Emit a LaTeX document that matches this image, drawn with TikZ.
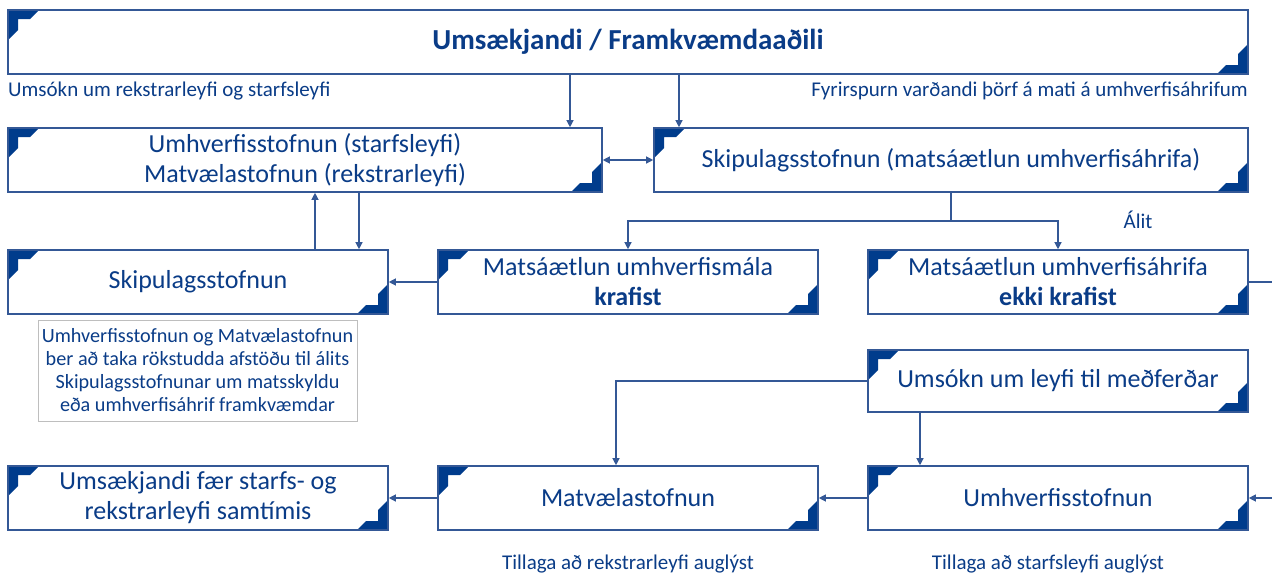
\documentclass[tikz,border=0pt]{standalone}
\usepackage{fontspec}
\setmainfont{Carlito}
\usetikzlibrary{arrows.meta}
\definecolor{edge}{RGB}{52,88,150}
\definecolor{ink}{RGB}{10,60,135}
\definecolor{cornerblue}{RGB}{0,60,140}
\definecolor{notegray}{RGB}{190,190,190}
\tikzset{
  x=1pt, y=-1pt,
  box/.style={draw=edge, line width=1.6pt, fill=white, text=ink, align=center,
    inner sep=0pt, font=\fontsize{26}{30}\selectfont,
    path picture={
      \fill[cornerblue] (path picture bounding box.north west) -- ++(31pt,0pt) -- ++(-9pt,-9pt)
        -- ++(-12pt,0pt) -- ++(0pt,-11pt) -- ++(-10pt,-10pt) -- cycle;
      \fill[cornerblue] (path picture bounding box.south east) -- ++(-31pt,0pt) -- ++(9pt,9pt)
        -- ++(12pt,0pt) -- ++(0pt,11pt) -- ++(10pt,10pt) -- cycle;
    }},
  lbl/.style={text=ink, inner sep=0pt, font=\fontsize{21}{24}\selectfont},
  note/.style={draw=notegray, line width=0.8pt, text=ink, align=center, inner sep=0pt,
    font=\fontsize{20.2}{23}\selectfont},
  arr/.style={draw=edge, line width=1.2pt, -{Triangle[width=7pt,length=7pt]}},
  arrboth/.style={draw=edge, line width=1.2pt, {Triangle[width=7pt,length=7pt]}-{Triangle[width=7pt,length=7pt]}},
  ln/.style={draw=edge, line width=1.2pt},
}
\begin{document}
\begin{tikzpicture}
\useasboundingbox (0,0) rectangle (1272,576);

% top row
\node[box, minimum width=1240pt, minimum height=64pt, font=\fontsize{29}{30}\selectfont\bfseries]
  (top) at (628,42) {Umsækjandi / Framkvæmdaaðili};
\node[lbl, anchor=west] (lreq) at (8,91) {Umsókn um rekstrarleyfi og starfsleyfi};
\node[lbl, anchor=east] (lqry) at (1248,91) {Fyrirspurn varðandi þörf á mati á umhverfisáhrifum};

% second row
\node[box, minimum width=594pt, minimum height=64pt] (agency) at (305,160)
  {Umhverfisstofnun (starfsleyfi)\\Matvælastofnun (rekstrarleyfi)};
\node[box, minimum width=594pt, minimum height=64pt] (plan) at (951,160)
  {Skipulagsstofnun (matsáætlun umhverfisáhrifa)};

% third row
\node[box, minimum width=380pt, minimum height=64pt] (skip) at (198,282) {Skipulagsstofnun};
\node[box, minimum width=380pt, minimum height=64pt] (req) at (628,282)
  {Matsáætlun umhverfismála\\\textbf{krafist}};
\node[box, minimum width=380pt, minimum height=64pt] (noreq) at (1058,282)
  {Matsáætlun umhverfisáhrifa\\\textbf{ekki krafist}};
\node[lbl] (opinion) at (1138,220) {Álit};

\node[note, minimum width=319pt, minimum height=101pt] (remark) at (197.5,370.5)
  {Umhverfisstofnun og Matvælastofnun\\ber að taka rökstudda afstöðu til álits\\
   Skipulagsstofnunar um matsskyldu\\eða umhverfisáhrif framkvæmdar};

% fourth row
\node[box, minimum width=380pt, minimum height=62pt] (apply) at (1058,381)
  {Umsókn um leyfi til meðferðar};

% bottom row
\node[box, minimum width=380pt, minimum height=64pt] (done) at (198,498)
  {Umsækjandi fær starfs- og\\rekstrarleyfi samtímis};
\node[box, minimum width=380pt, minimum height=64pt] (mast) at (628,498) {Matvælastofnun};
\node[box, minimum width=380pt, minimum height=64pt] (ust) at (1058,498) {Umhverfisstofnun};
\node[lbl] (adv1) at (628,564) {Tillaga að rekstrarleyfi auglýst};
\node[lbl] (adv2) at (1048,564) {Tillaga að starfsleyfi auglýst};

% helper points
\coordinate (xa) at (570,0);
\coordinate (xb) at (679,0);
\coordinate (split) at (951,221);
\coordinate (xup) at (315,0);
\coordinate (xdown) at (359,0);
\coordinate (xg) at (616,0);
\coordinate (xh) at (920,0);
\coordinate (outE) at (1272,282);
\coordinate (inH) at (1272,498);

% connectors
\draw[arr] (top.south -| xa) -- (agency.north -| xa);
\draw[arr] (top.south -| xb) -- (plan.north -| xb);
\draw[arrboth] (agency.east) -- (plan.west);
\draw[ln] (plan.south -| split) -- (split);
\draw[arr] (split) -| (req.north);
\draw[arr] (split) -| (noreq.north);
\draw[arr] (skip.north -| xup) -- (agency.south -| xup);
\draw[arr] (agency.south -| xdown) -- (skip.north -| xdown);
\draw[arr] (req.west) -- (skip.east);
\draw[ln] (noreq.east) -- (outE);
\draw[arr] (apply.west) -| (mast.north -| xg);
\draw[arr] (apply.south -| xh) -- (ust.north -| xh);
\draw[arr] (ust.west) -- (mast.east);
\draw[arr] (mast.west) -- (done.east);
\draw[arr] (inH) -- (ust.east);
\end{tikzpicture}
\end{document}
